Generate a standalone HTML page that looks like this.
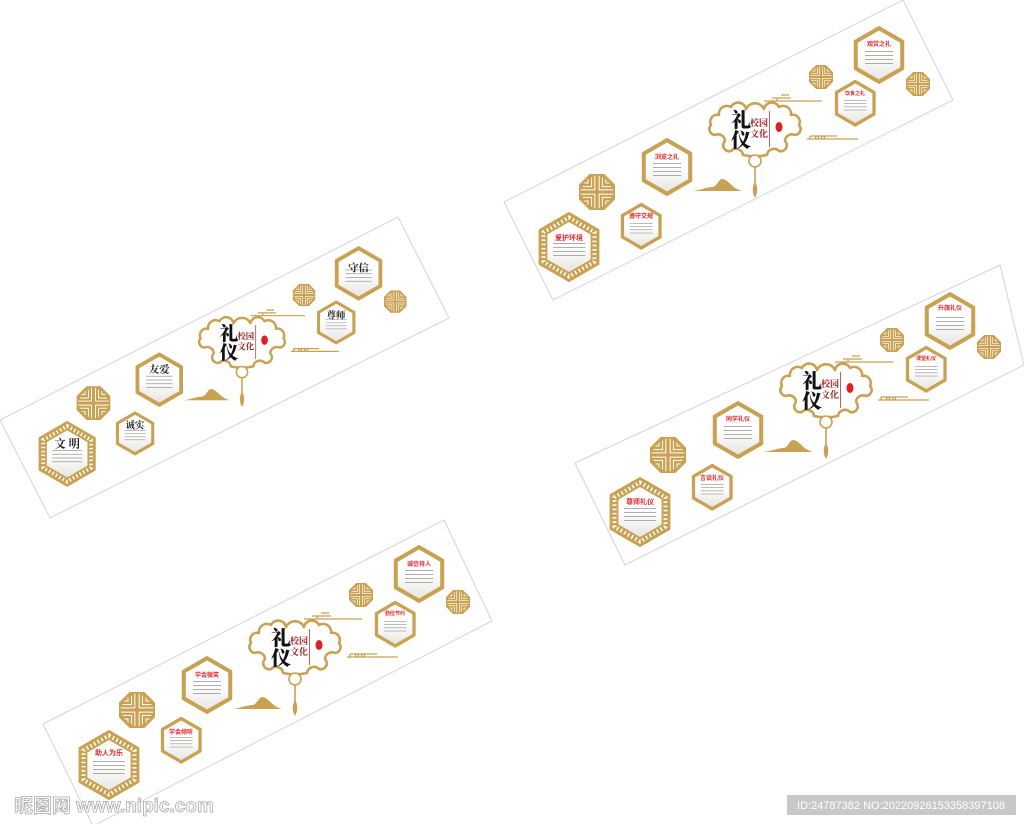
<!DOCTYPE html>
<html><head><meta charset="utf-8">
<style>
html,body{margin:0;padding:0;background:#fff;width:1024px;height:824px;overflow:hidden}
svg{display:block}
.tb{font-family:"Liberation Sans","Noto Sans CJK SC",sans-serif;font-weight:bold;fill:#e8262b;text-anchor:middle}
.tk{font-family:"Noto Serif CJK SC","Noto Sans CJK SC",serif;font-weight:bold;fill:#222;text-anchor:middle}
.li{font-family:"Noto Serif CJK SC",serif;font-weight:900;fill:#111;text-anchor:middle}
.xy{font-family:"Noto Serif CJK SC",serif;font-weight:bold;fill:#9a1c1c;text-anchor:middle}
</style></head><body>
<svg width="1024" height="824" viewBox="0 0 1024 824" xmlns="http://www.w3.org/2000/svg">
<defs>
<linearGradient id="fg" x1="0" y1="0" x2="0" y2="1"><stop offset="0.5" stop-color="#fff"/><stop offset="1" stop-color="#e6e6e2"/></linearGradient>
<symbol id="hm" viewBox="-30 -30 60 60">
<polygon points="0,-28 24.25,-14 24.25,14 0,28 -24.25,14 -24.25,-14" fill="#c9a152" stroke="#c9a152" stroke-width="2" stroke-linejoin="round"/>
<polygon points="0,-24.5 21.2,-12.25 21.2,12.25 0,24.5 -21.2,12.25 -21.2,-12.25" fill="url(#fg)"/>
<g fill="#999"><rect x="-14" y="-4" width="28" height="0.8"/><rect x="-14" y="0" width="28" height="0.8"/><rect x="-14" y="4" width="28" height="0.8"/><rect x="-14" y="8" width="28" height="0.8"/></g>
</symbol>
<symbol id="hb" viewBox="-36 -36 72 72">
<polygon points="0,-34 29.4,-17 29.4,17 0,34 -29.4,17 -29.4,-17" fill="#c9a152" stroke="#c9a152" stroke-width="2" stroke-linejoin="round"/>
<polygon points="0,-29.5 25.5,-14.75 25.5,14.75 0,29.5 -25.5,14.75 -25.5,-14.75" fill="none" stroke="#fff" stroke-width="4" stroke-dasharray="1.6 2.6"/>
<polygon points="0,-25 21.6,-12.5 21.6,12.5 0,25 -21.6,12.5 -21.6,-12.5" fill="url(#fg)"/>
<g fill="#999"><rect x="-16" y="-4" width="32" height="0.8"/><rect x="-16" y="0" width="32" height="0.8"/><rect x="-16" y="4" width="32" height="0.8"/><rect x="-16" y="8" width="32" height="0.8"/></g>
</symbol>
<symbol id="oc" viewBox="-10 -10 20 20">
<polygon points="-4.1,-10 4.1,-10 10,-4.1 10,4.1 4.1,10 -4.1,10 -10,4.1 -10,-4.1" fill="#c9a152"/>
<g stroke="#fff" stroke-width="0.55" fill="none">
<path d="M-1.2,-9 V-1.2 H-9 M1.2,-9 V-1.2 H9 M-1.2,9 V1.2 H-9 M1.2,9 V1.2 H9"/>
<path d="M-3,-8 V-3 H-8 M3,-8 V-3 H8 M-3,8 V3 H-8 M3,8 V3 H8"/>
<path d="M-5,-7 V-5 H-7 M5,-7 V-5 H7 M-5,7 V5 H-7 M5,7 V5 H7"/>
</g>
</symbol>
<symbol id="em" viewBox="-60 -40 120 110" overflow="visible">
<path d="M-9,-20 A10,10 0 0 1 9,-20 A8,8 0 0 1 24,-22 A8,8 0 0 1 36,-14 A7,7 0 0 1 44,-4 A6,6 0 0 1 40,6 A7,7 0 0 0 30,12 A6,6 0 0 1 24,22 A7,7 0 0 0 12,26 L6,27 L-6,27 L-12,26 A7,7 0 0 0 -24,22 A6,6 0 0 1 -30,12 A7,7 0 0 0 -40,6 A6,6 0 0 1 -44,-4 A7,7 0 0 1 -36,-14 A8,8 0 0 1 -24,-22 A8,8 0 0 1 -9,-20 Z" fill="#fff" stroke="#c9a152" stroke-width="2.6" stroke-linejoin="round"/>
<circle cx="0" cy="32" r="6" fill="#fff" stroke="#c9a152" stroke-width="1.6"/>
<line x1="0" y1="38" x2="0" y2="55" stroke="#c9a152" stroke-width="1.6"/>
<path d="M0,53 C3,57 3,64 0,69 C-3,64 -3,57 0,53 Z" fill="#c9a152"/>
<ellipse cx="24" cy="-2" rx="3.5" ry="5" fill="#e02020"/>
<rect x="14" y="-18" width="1" height="36" fill="#c06060"/>
<path d="M-62,62 C-54,61 -48,58 -42,58 C-38,57 -36,50 -33,50 C-28,50 -24,57 -18,60 C-16,61 -14,62 -12,62 Z" fill="#c9a152"/>
<g stroke="#c9a152" stroke-width="1.3" fill="none">
<path d="M9,-28 H67 M22,-28 V-31 H36 M17,-31 H30 M26,-34 H34"/>
<path d="M52,10 H103 M55,7 H82 M55,7 V10"/>
<circle cx="62" cy="8.5" r="1.5"/><circle cx="68" cy="8.5" r="1.5"/>
</g>
</symbol>
</defs>

<g fill="#fff" stroke="#d4d4d4" stroke-width="1">
<polygon points="0,420 398,217 449,318 50,518"/>
<polygon points="504,202 903,0 953,100 553,300"/>
<polygon points="43,724 444,520 492,621 93,826"/>
<polygon points="575,463 1000,265 1024,365 625,565"/>
</g>

<!-- PANEL 1 -->
<g transform="translate(242,342) scale(0.94)">
<use href="#hb" x="-222" y="83" width="72" height="72"/>
<use href="#oc" x="-176" y="47" width="36" height="36"/>
<use href="#hm" x="-138" y="73" width="48.5" height="48.5"/>
<use href="#hm" x="-118" y="10" width="60" height="60"/>
<use href="#em" x="-60" y="-40" width="120" height="110"/>
<use href="#hm" x="94" y="-103" width="60" height="60"/>
<use href="#hm" x="76" y="-45" width="48.5" height="48.5"/>
<use href="#oc" x="54" y="-62" width="24" height="24"/>
<use href="#oc" x="151" y="-55" width="24" height="24"/>
<text class="li" x="-14" y="-2" font-size="20">礼</text>
<text class="li" x="-14" y="18" font-size="20">仪</text>
<text class="xy" x="4" y="-3" font-size="9">校园</text>
<text class="xy" x="4" y="8" font-size="9">文化</text>
<text class="tk" x="-186" y="112" font-size="12">文 明</text>
<text class="tk" x="-114" y="92" font-size="10">诚实</text>
<text class="tk" x="-88" y="33" font-size="11">友爱</text>
<text class="tk" x="124" y="-75" font-size="11">守信</text>
<text class="tk" x="100" y="-25" font-size="10">尊师</text>
</g>

<!-- PANEL 2 -->
<g transform="translate(755,129)">
<use href="#hb" x="-222" y="82" width="72" height="72"/>
<use href="#oc" x="-176" y="45" width="36" height="36"/>
<use href="#hm" x="-138" y="73" width="48.5" height="48.5"/>
<use href="#hm" x="-118" y="8" width="60" height="60"/>
<use href="#em" x="-60" y="-40" width="120" height="110"/>
<use href="#hm" x="94" y="-104" width="60" height="60"/>
<use href="#hm" x="76" y="-50" width="48.5" height="48.5"/>
<use href="#oc" x="54" y="-64" width="24" height="24"/>
<use href="#oc" x="151" y="-57" width="24" height="24"/>
<text class="li" x="-14" y="-2" font-size="20">礼</text>
<text class="li" x="-14" y="18" font-size="20">仪</text>
<text class="xy" x="4" y="-3" font-size="9">校园</text>
<text class="xy" x="4" y="8" font-size="9">文化</text>
<text class="tb" x="-186" y="111" font-size="7">爱护环境</text>
<text class="tb" x="-114" y="89" font-size="6">遵守交规</text>
<text class="tb" x="-88" y="30" font-size="6">浏览之礼</text>
<text class="tb" x="124" y="-83" font-size="6">观赏之礼</text>
<text class="tb" x="100" y="-34" font-size="5">饮食之礼</text>
</g>

<!-- PANEL 3 -->
<g transform="translate(295,647)">
<use href="#hb" x="-222" y="82" width="72" height="72"/>
<use href="#oc" x="-176" y="45" width="36" height="36"/>
<use href="#hm" x="-138" y="69" width="48.5" height="48.5"/>
<use href="#hm" x="-118" y="8" width="60" height="60"/>
<use href="#em" x="-60" y="-40" width="120" height="110"/>
<use href="#hm" x="94" y="-103" width="60" height="60"/>
<use href="#hm" x="76" y="-47" width="48.5" height="48.5"/>
<use href="#oc" x="54" y="-64" width="24" height="24"/>
<use href="#oc" x="151" y="-57" width="24" height="24"/>
<text class="li" x="-14" y="-2" font-size="20">礼</text>
<text class="li" x="-14" y="18" font-size="20">仪</text>
<text class="xy" x="4" y="-3" font-size="9">校园</text>
<text class="xy" x="4" y="8" font-size="9">文化</text>
<text class="tb" x="-186" y="108" font-size="7">助人为乐</text>
<text class="tb" x="-114" y="87" font-size="6">学会倾听</text>
<text class="tb" x="-88" y="30" font-size="6">学会微笑</text>
<text class="tb" x="124" y="-81" font-size="6">诚信待人</text>
<text class="tb" x="100" y="-32" font-size="5">勤俭节约</text>
</g>

<!-- PANEL 4 -->
<g transform="translate(826,390)">
<use href="#hb" x="-222" y="86" width="72" height="72"/>
<use href="#oc" x="-176" y="47" width="36" height="36"/>
<use href="#hm" x="-138" y="73" width="48.5" height="48.5"/>
<use href="#hm" x="-118" y="10" width="60" height="60"/>
<use href="#em" x="-60" y="-40" width="120" height="110"/>
<use href="#hm" x="94" y="-99" width="60" height="60"/>
<use href="#hm" x="76" y="-45" width="48.5" height="48.5"/>
<use href="#oc" x="54" y="-62" width="24" height="24"/>
<use href="#oc" x="151" y="-55" width="24" height="24"/>
<text class="li" x="-14" y="-2" font-size="20">礼</text>
<text class="li" x="-14" y="18" font-size="20">仪</text>
<text class="xy" x="4" y="-3" font-size="9">校园</text>
<text class="xy" x="4" y="8" font-size="9">文化</text>
<text class="tb" x="-186" y="114" font-size="7">尊师礼仪</text>
<text class="tb" x="-114" y="90" font-size="6">言谈礼仪</text>
<text class="tb" x="-88" y="31" font-size="6">同学礼仪</text>
<text class="tb" x="124" y="-80" font-size="6">升旗礼仪</text>
<text class="tb" x="100" y="-30" font-size="5">课堂礼仪</text>
</g>

<text x="14" y="812" font-family="Liberation Sans,Noto Sans CJK SC,sans-serif" font-size="19" font-weight="bold" fill="#fff" stroke="#aaa" stroke-width="0.8">昵图网 www.nipic.com</text>
<rect x="787" y="795" width="229" height="20" fill="#c8c8c8"/>
<text x="901" y="809" font-family="Liberation Sans,sans-serif" font-size="11" fill="#fff" text-anchor="middle">ID:24787382 NO:20220926153358397108</text>
</svg>
</body></html>
